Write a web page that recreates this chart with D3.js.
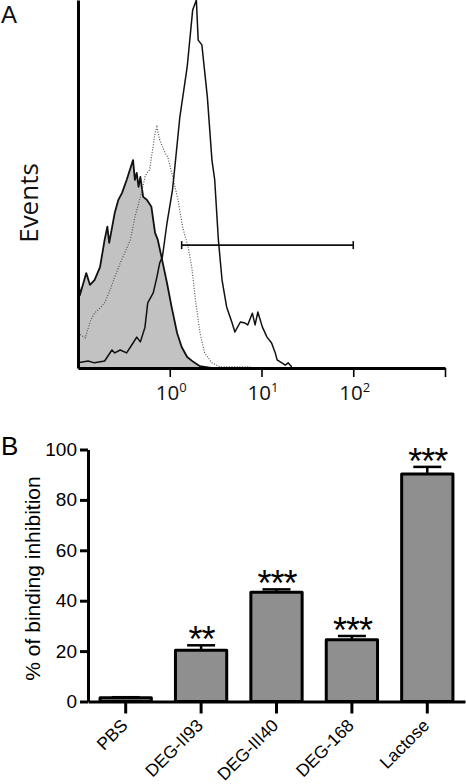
<!DOCTYPE html>
<html><head><meta charset="utf-8">
<script src="https://cdn.jsdelivr.net/npm/d3@7"></script>
<style>
html,body{margin:0;padding:0;background:#fff;}
svg{display:block;}
</style></head>
<body>
<svg id="chart" width="466" height="784"></svg>
<script>
// ---------- Panel A: flow cytometry histograms (x = log10 fluorescence, y = events, % of max) ----------
const shadedLog    = [-1.00,-0.98,-0.91,-0.87,-0.82,-0.76,-0.71,-0.68,-0.66,-0.60,-0.56,-0.52,-0.47,-0.40,-0.38,-0.36,-0.34,-0.32,-0.29,-0.25,-0.20,-0.16,-0.13,-0.09,-0.03,0.02,0.08,0.13,0.19,0.26,0.33,0.45];
const shadedEvents = [26.2,19.8,25.8,22.6,23.9,27.4,34.8,38.4,34.0,42.1,45.7,47.6,51.1,56.5,51.1,53.0,49.2,51.9,46.5,45.7,43.8,36.7,34.8,30.2,23.1,16.6,9.5,5.7,3.0,1.6,0.5,0.0];

const dottedLog    = [-1.00,-0.92,-0.87,-0.82,-0.76,-0.71,-0.65,-0.60,-0.54,-0.49,-0.43,-0.38,-0.32,-0.27,-0.25,-0.22,-0.16,-0.14,-0.11,-0.05,-0.02,0.04,0.09,0.14,0.20,0.24,0.28,0.33,0.38,0.46,0.55,0.88];
const dottedEvents = [9.5,8.2,12.5,14.9,16.3,17.7,21.2,24.7,28.5,31.3,34.8,41.0,46.5,51.9,53.0,53.8,63.9,65.5,62.0,58.4,57.3,51.1,45.7,38.3,32.9,27.4,18.5,9.5,4.1,1.4,0.3,0.3];

const solidLog     = [-1.00,-0.89,-0.82,-0.71,-0.63,-0.60,-0.54,-0.47,-0.40,-0.36,-0.32,-0.27,-0.24,-0.18,-0.14,-0.11,-0.08,-0.03,0.03,0.06,0.11,0.19,0.25,0.29,0.31,0.35,0.41,0.46,0.49,0.53,0.57,0.62,0.68,0.71,0.77,0.82,0.85,0.90,0.93,0.96,1.01,1.06,1.11,1.15,1.17,1.26,1.29,1.33];
const solidEvents  = [1.4,1.9,1.4,1.9,4.9,4.1,4.9,4.1,6.8,8.4,7.1,11.1,17.7,20.4,24.7,28.5,30.2,39.4,48.4,55.7,68.2,81.8,97.3,100,89.1,87.8,73.6,56.5,51.1,34.8,23.9,16.6,12.2,9.8,12.5,12.2,11.7,14.9,11.7,15.2,11.1,8.4,6.8,4.1,2.2,0.8,1.4,0.3];

const decadeTicks = [0, 1, 2, 3];
const decadeLabels = ["0", "1", "2"];           // shown as 10^0, 10^1, 10^2
const gateRange = [0.13, 2.0];                    // log10 units
const gateLevel = 33.4;                           // events

// ---------- Panel B: % of binding inhibition ----------
const categories = ["PBS", "DEG-II93", "DEG-III40", "DEG-168", "Lactose"];
const inhibition = [1.5, 20.3, 43.4, 24.5, 90.3];
const sem        = [0.2, 2.0, 1.1, 1.5, 2.8];
const stars      = ["", "**", "***", "***", "***"];
const yTicksB    = [0, 20, 40, 60, 80, 100];

const svg = d3.select("#chart");

// ===== Panel A =====
const xA = d3.scaleLinear().domain([-1, 3]).range([78, 445]);
const yA = d3.scaleLinear().domain([0, 100]).range([368, 0]);

const gA = svg.append("g");

const shaded = shadedLog.map((x, i) => ({x, y: shadedEvents[i]}));
const dotted = dottedLog.map((x, i) => ({x, y: dottedEvents[i]}));
const solid  = solidLog.map((x, i) => ({x, y: solidEvents[i]}));

gA.append("path").datum(shaded)
  .attr("d", d3.area().x(d => xA(d.x)).y0(yA(0)).y1(d => yA(d.y)))
  .attr("fill", "#c2c2c2").attr("stroke", "none");
gA.append("path").datum(shaded)
  .attr("d", d3.line().x(d => xA(d.x)).y(d => yA(d.y)))
  .attr("fill", "none").attr("stroke", "#111").attr("stroke-width", 1.8).attr("stroke-linejoin", "round");

gA.append("path").datum(dotted)
  .attr("d", d3.line().x(d => xA(d.x)).y(d => yA(d.y)))
  .attr("fill", "none").attr("stroke", "#555").attr("stroke-width", 1.2)
  .attr("stroke-dasharray", "1,1.6");

gA.append("path").datum(solid)
  .attr("d", d3.line().x(d => xA(d.x)).y(d => yA(d.y)))
  .attr("fill", "none").attr("stroke", "#111").attr("stroke-width", 1.5).attr("stroke-linejoin", "round");

// gate marker
const gy = yA(gateLevel);
gA.append("line").attr("x1", xA(gateRange[0])).attr("x2", xA(gateRange[1]))
  .attr("y1", gy).attr("y2", gy).attr("stroke", "#111").attr("stroke-width", 1.6);
gateRange.forEach(v => {
  gA.append("line").attr("x1", xA(v)).attr("x2", xA(v)).attr("y1", gy - 4).attr("y2", gy + 4)
    .attr("stroke", "#111").attr("stroke-width", 1.6);
});

// axes A
const xAxisA = gA.append("g").attr("transform", `translate(0,${yA(0)})`)
  .call(d3.axisBottom(xA).tickValues(decadeTicks).tickSize(9).tickSizeOuter(0).tickFormat(""));
xAxisA.select(".domain").attr("stroke", "#000").attr("stroke-width", 3);
xAxisA.selectAll(".tick line").attr("stroke", "#000").attr("stroke-width", 1.6);

const yAxisA = gA.append("g").attr("transform", `translate(${xA(-1)},0)`)
  .call(d3.axisLeft(yA).tickValues([]).tickSizeOuter(0));
yAxisA.select(".domain").attr("stroke", "#000").attr("stroke-width", 3);

decadeLabels.forEach((lab, i) => {
  const t = gA.append("text").attr("x", xA(decadeTicks[i]) + 1.5).attr("y", 400)
    .attr("text-anchor", "middle").attr("font-family", "Open Sans").attr("font-size", 20.5).attr("fill", "#111");
  t.append("tspan").text("10");
  t.append("tspan").attr("dy", -8.5).attr("font-size", 13).text(lab);
});

gA.append("text").attr("transform", "translate(38,203) rotate(-90)")
  .attr("text-anchor", "middle").attr("font-family", "Open Sans").attr("font-size", 26).attr("fill", "#111")
  .text("Events");

svg.append("text").attr("x", 1).attr("y", 23).attr("font-family", "Liberation Sans, Arial, sans-serif").attr("font-size", 24)
  .attr("fill", "#111").text("A");

// ===== Panel B =====
const xB = d3.scaleBand().domain(categories).range([88, 465]).paddingInner(0.32).paddingOuter(0.16);
const yB = d3.scaleLinear().domain([0, 100]).range([701.5, 449.5]);
const gB = svg.append("g");

svg.append("text").attr("x", 1).attr("y", 455).attr("font-family", "Liberation Sans, Arial, sans-serif")
  .attr("font-size", 26).attr("fill", "#000").text("B");

// error bars
categories.forEach((c, i) => {
  const cx = xB(c) + xB.bandwidth() / 2;
  const top = yB(inhibition[i] + sem[i]);
  gB.append("line").attr("x1", cx).attr("x2", cx).attr("y1", yB(inhibition[i])).attr("y2", top)
    .attr("stroke", "#000").attr("stroke-width", 2.5);
  gB.append("line").attr("x1", cx - 14).attr("x2", cx + 14).attr("y1", top).attr("y2", top)
    .attr("stroke", "#000").attr("stroke-width", 2.5);
  if (stars[i]) {
    gB.append("text").attr("x", cx + 0.5).attr("y", top + 7)
      .attr("text-anchor", "middle").attr("font-family", "Liberation Sans, Arial, sans-serif")
      .attr("font-size", 36).attr("letter-spacing", -1).attr("fill", "#000").text(stars[i]);
  }
});

// bars
gB.selectAll("rect.bar").data(categories).join("rect").attr("class", "bar")
  .attr("x", d => xB(d)).attr("width", xB.bandwidth())
  .attr("y", (d, i) => yB(inhibition[i])).attr("height", (d, i) => yB(0) - yB(inhibition[i]))
  .attr("fill", "#8f8f8f").attr("stroke", "#000").attr("stroke-width", 3).attr("stroke-linejoin", "round");

// y axis B
const yAxisB = gB.append("g").attr("transform", `translate(88,0)`)
  .call(d3.axisLeft(yB).tickValues(yTicksB).tickSize(8).tickSizeOuter(0).tickPadding(3));
yAxisB.select(".domain").attr("stroke", "#000").attr("stroke-width", 3);
yAxisB.selectAll(".tick line").attr("stroke", "#000").attr("stroke-width", 3);
yAxisB.selectAll(".tick text").attr("font-family", "Liberation Sans, Arial, sans-serif")
  .attr("font-size", 19).attr("fill", "#000");

// x axis B
const xAxisB = gB.append("g").attr("transform", `translate(0,${yB(0)})`)
  .call(d3.axisBottom(xB).tickSize(12).tickSizeOuter(0).tickPadding(0));
xAxisB.select(".domain").attr("stroke", "#000").attr("stroke-width", 3);
xAxisB.selectAll(".tick line").attr("stroke", "#000").attr("stroke-width", 3);
xAxisB.selectAll(".tick text")
  .attr("font-family", "Liberation Sans, Arial, sans-serif").attr("font-size", 17.5).attr("fill", "#000")
  .attr("text-anchor", "end").attr("dy", null).attr("y", null)
  .attr("transform", "translate(3,25) rotate(-45)");

gB.append("text").attr("transform", `translate(40,${(yB(0) + yB(100)) / 2 + 3}) rotate(-90)`)
  .attr("text-anchor", "middle").attr("font-family", "Liberation Sans, Arial, sans-serif")
  .attr("font-size", 21).attr("fill", "#000").text("% of binding inhibition");
</script>
</body></html>
